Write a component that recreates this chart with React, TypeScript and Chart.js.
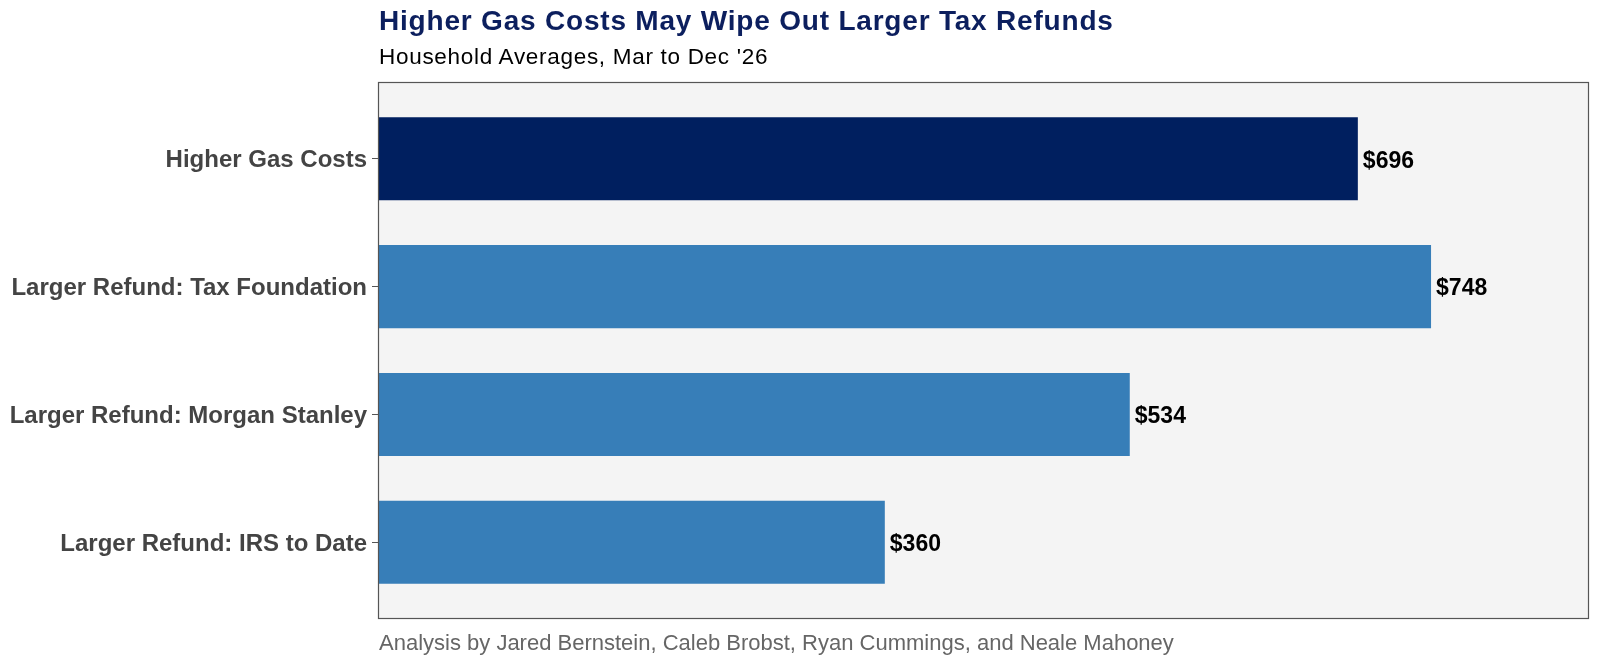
import React, { useEffect, useRef } from 'react';
import { Chart, registerables } from 'chart.js';

Chart.register(...registerables);

const categories = [
  'Higher Gas Costs',
  'Larger Refund: Tax Foundation',
  'Larger Refund: Morgan Stanley',
  'Larger Refund: IRS to Date',
];
const amounts = [696, 748, 534, 360];
const barColors = ['#001f5f', '#377eb8', '#377eb8', '#377eb8'];

const FONT = '"Liberation Sans", Arial, Helvetica, sans-serif';

// grey panel + dark frame behind the bars
const panelPlugin = {
  id: 'panel',
  beforeDraw(chart: any) {
    const { ctx, chartArea: a } = chart;
    ctx.save();
    ctx.fillStyle = '#f4f4f4';
    ctx.fillRect(a.left, a.top, a.right - a.left, a.bottom - a.top);
    ctx.restore();
  },
  afterDraw(chart: any) {
    const { ctx, chartArea: a } = chart;
    ctx.save();
    ctx.strokeStyle = '#555555';
    ctx.lineWidth = 1.2;
    ctx.strokeRect(a.left + 0.5, a.top + 0.5, a.right - a.left - 1, a.bottom - a.top - 1);
    ctx.restore();
  },
};

// "$696" style labels at the end of each bar
const valueLabels = {
  id: 'valueLabels',
  afterDatasetsDraw(chart: any) {
    const { ctx } = chart;
    const meta = chart.getDatasetMeta(0);
    ctx.save();
    ctx.font = `bold 23px ${FONT}`;
    ctx.fillStyle = '#000000';
    ctx.textAlign = 'left';
    ctx.textBaseline = 'middle';
    meta.data.forEach((bar: any, i: number) => {
      ctx.fillText('$' + amounts[i], bar.x + 5, bar.y + 2.5);
    });
    ctx.restore();
  },
};

export default function App() {
  const canvasRef = useRef<HTMLCanvasElement | null>(null);

  useEffect(() => {
    if (!canvasRef.current) return;
    const chart = new Chart(canvasRef.current, {
      type: 'bar',
      data: {
        datasets: [
          {
            data: amounts.map((v, i) => ({ x: v, y: i })),
            backgroundColor: barColors,
            borderWidth: 0,
            barPercentage: 0.65,
            categoryPercentage: 1,
          },
        ],
      },
      options: {
        indexAxis: 'y',
        animation: false,
        responsive: false,
        layout: { padding: { left: 0, top: 82, right: 11, bottom: 47 } },
        plugins: {
          legend: { display: false },
          tooltip: { enabled: false },
        },
        scales: {
          x: {
            type: 'linear',
            display: false,
            min: 0,
            max: 748 * 1.15,
          },
          y: {
            type: 'linear',
            min: -0.6,
            max: 3.6,
            reverse: true,
            offset: false,
            afterBuildTicks: (scale: any) => {
              scale.ticks = categories.map((_, i) => ({ value: i }));
            },
            afterFit: (scale: any) => {
              scale.width = 378;
            },
            border: { display: false },
            grid: {
              offset: false,
              drawOnChartArea: false,
              drawTicks: true,
              tickLength: 6,
              color: '#555555',
            },
            ticks: {
              padding: 5,
              labelOffset: 2,
              color: '#444444',
              font: { family: FONT, size: 24, weight: 'bold' },
              callback: (v: any) => categories[v as number] ?? '',
            },
          },
        },
      },
      plugins: [panelPlugin, valueLabels],
    } as any);
    return () => chart.destroy();
  }, []);

  return (
    <div style={{ position: 'absolute', left: 0, top: 0, width: 1600, height: 666, background: '#fff', fontFamily: FONT }}>
      <canvas ref={canvasRef} width={1600} height={666} style={{ position: 'absolute', left: 0, top: 0 }} />
      <div style={{ position: 'absolute', left: 379, top: 7, fontSize: 28, lineHeight: '28px', fontWeight: 'bold', letterSpacing: 0.8, color: '#0c1f5e', whiteSpace: 'nowrap' }}>
        Higher Gas Costs May Wipe Out Larger Tax Refunds
      </div>
      <div style={{ position: 'absolute', left: 379, top: 46, fontSize: 22.5, lineHeight: '22.5px', letterSpacing: 0.7, color: '#000', whiteSpace: 'nowrap' }}>
        Household Averages, Mar to Dec '26
      </div>
      <div style={{ position: 'absolute', left: 379, top: 632, fontSize: 22, lineHeight: '22px', color: '#666666', whiteSpace: 'nowrap' }}>
        Analysis by Jared Bernstein, Caleb Brobst, Ryan Cummings, and Neale Mahoney
      </div>
    </div>
  );
}
